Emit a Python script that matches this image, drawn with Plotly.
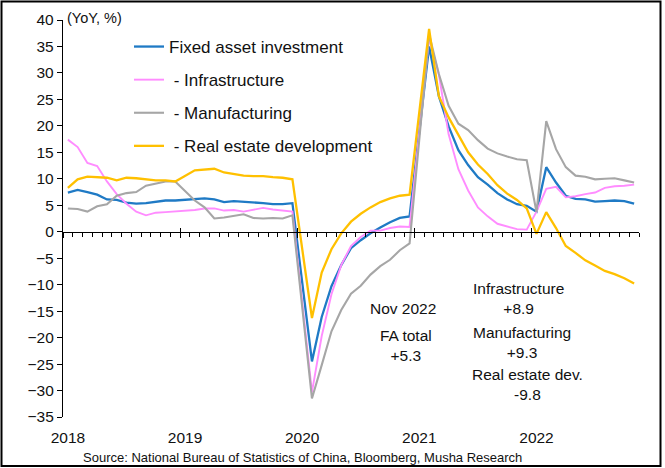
import plotly.graph_objects as go

# ---- data (YTD, YoY %) : Jan 2018 .. Nov 2022, one value per month ----
years = ["2018", "2019", "2020", "2021", "2022"]
months = [f"{y}-{m:02d}" for y in range(2018, 2023) for m in range(1, 13)][:59]

fai = [7.4, 7.9, 7.5, 7.0, 6.1, 6.0, 5.5, 5.3, 5.4, 5.7, 5.9, 5.9,
       None, 6.1, 6.3, 6.1, 5.6, 5.8, 5.7, 5.5, 5.4, 5.2, 5.2, 5.4,
       None, -24.5, -16.1, -10.3, -6.3, -3.1, -1.6, -0.3, 0.8, 1.8, 2.6, 2.9,
       None, 35.0, 25.6, 19.9, 15.4, 12.6, 10.3, 8.9, 7.3, 6.1, 5.2, 4.9,
       3.8, 12.2, 9.3, 6.8, 6.2, 6.1, 5.7, 5.8, 5.9, 5.8, 5.3]

infra = [17.4, 16.0, 13.0, 12.4, 9.5, 7.1, 5.3, 3.8, 3.1, 3.6, 3.7, 3.8,
         None, 4.1, 4.4, 4.4, 4.0, 4.1, 3.8, 4.2, 4.5, 4.2, 4.0, 3.8,
         None, -30.3, -19.7, -11.8, -6.3, -2.7, -1.0, 0.2, 0.2, 0.7, 1.0, 0.9,
         None, 36.6, 29.7, 18.4, 11.8, 7.8, 4.6, 2.9, 1.5, 1.0, 0.5, 0.4,
         3.8, 8.1, 8.5, 6.5, 6.7, 7.1, 7.4, 8.3, 8.6, 8.7, 8.9]

manuf = [4.4, 4.3, 3.8, 4.8, 5.2, 6.8, 7.3, 7.5, 8.7, 9.1, 9.5, 9.5,
         None, 5.9, 4.6, 2.5, 2.7, 3.0, 3.3, 2.6, 2.5, 2.6, 2.5, 3.1,
         None, -31.5, -25.2, -18.8, -14.8, -11.7, -10.2, -8.1, -6.5, -5.3, -3.5, -2.2,
         None, 37.3, 29.8, 23.8, 20.4, 19.2, 17.3, 15.7, 14.8, 14.2, 13.7, 13.5,
         3.7, 20.9, 15.6, 12.2, 10.6, 10.4, 9.9, 10.0, 10.1, 9.7, 9.3]

realestate = [8.3, 9.9, 10.4, 10.3, 10.2, 9.7, 10.2, 10.1, 9.9, 9.7, 9.7, 9.5,
              None, 11.6, 11.8, 11.9, 11.2, 10.9, 10.6, 10.5, 10.5, 10.3, 10.2, 9.9,
              None, -16.3, -7.7, -3.3, -0.3, 1.9, 3.4, 4.6, 5.6, 6.3, 6.8, 7.0,
              None, 38.3, 25.6, 21.6, 18.3, 15.0, 12.7, 10.9, 8.8, 7.2, 6.0, 4.4,
              -0.4, 3.7, 0.7, -2.7, -4.0, -5.4, -6.4, -7.4, -8.0, -8.8, -9.8]

series = [
    ("Fixed asset investment", fai, "#1F7AC5", 2.3),
    ("\u00a0- Infrastructure", infra, "#FF8CFF", 1.9),
    ("\u00a0- Manufacturing", manuf, "#A6A6A6", 2.1),
    ("\u00a0- Real estate development", realestate, "#FFC000", 2.3),
]

x = list(range(len(months)))
year_pos = [months.index(f"{y}-01") for y in years]

FONT = "Arial, Liberation Sans, sans-serif"
TXT = "#111111"

fig = go.Figure()
for i, (name, vals, col, w) in enumerate(series):
    fig.add_trace(go.Scatter(
        x=x, y=vals, name=name, mode="lines", connectgaps=True,
        line=dict(color=col, width=w), legendgroup=f"g{i}",
        customdata=months, hovertemplate="%{customdata}: %{y}<extra></extra>"))

# helper traces so the overlay axes get drawn
fig.add_trace(go.Scatter(x=[None], y=[None], xaxis="x2", showlegend=False, hoverinfo="skip"))
fig.add_trace(go.Scatter(x=[None], y=[None], xaxis="x3", showlegend=False, hoverinfo="skip"))

YMIN, YMAX = -35, 40
zero_pos = (0 - YMIN) / (YMAX - YMIN)
xr = [-0.5, len(months) - 0.5]

L, R, T, B = 63, 26, 20, 51
W = 665 - L - R
H = 468 - T - B

def px(xp):
    return (xp - L) / W

def py(yp):
    return (T + H - yp) / H

fig.update_layout(
    width=665, height=468,
    margin=dict(l=L, r=R, t=T, b=B),
    paper_bgcolor="white", plot_bgcolor="white",
    font=dict(family=FONT, color=TXT),
    showlegend=True,
    legend=dict(x=px(129), y=py(29), xanchor="left", yanchor="top",
                bgcolor="rgba(0,0,0,0)", font=dict(size=17, color=TXT, family=FONT),
                tracegroupgap=8, traceorder="grouped"),
    xaxis=dict(range=xr, anchor="free", position=zero_pos,
               showline=True, linecolor="black", linewidth=1.3,
               tick0=-0.5, dtick=12, ticks="outside", ticklen=5, tickwidth=1.3,
               tickcolor="black", showticklabels=False, showgrid=False, zeroline=False,
               minor=dict(tick0=-0.5, dtick=1, ticks="outside", ticklen=4,
                          tickwidth=1.1, tickcolor="black", showgrid=False)),
    xaxis2=dict(range=xr, overlaying="x", anchor="free", position=zero_pos,
                showline=False, tick0=-0.5, dtick=12, ticks="inside", ticklen=4,
                tickwidth=1.3, tickcolor="black", showticklabels=False,
                showgrid=False, zeroline=False),
    xaxis3=dict(range=xr, overlaying="x", anchor="free", position=0,
                showline=False, tickmode="array", tickvals=year_pos, ticktext=years,
                ticks="outside", ticklen=6, tickcolor="rgba(0,0,0,0)",
                tickfont=dict(size=15.5, color=TXT, family=FONT),
                showgrid=False, zeroline=False),
    yaxis=dict(range=[YMIN, YMAX], tick0=0, dtick=5, ticks="outside", ticklen=5,
               tickwidth=1.3, tickcolor="black", showline=True, linecolor="black",
               linewidth=1.3, showgrid=False, zeroline=False,
               tickfont=dict(size=15.5, color=TXT, family=FONT)),
)

ann = [
    ("(YoY, %)", 65, 18, "left", 14.5),
    ("Nov 2022", 403, 309, "center", 15.5),
    ("FA total<br>+5.3", 406, 345.5, "center", 15.5),
    ("Infrastructure<br>+8.9", 518, 298.5, "center", 15.5),
    ("Manufacturing<br>+9.3", 522, 342.5, "center", 15.5),
    ("Real estate dev.<br>-9.8", 527, 384, "center", 15.5),
    ("Source: National Bureau of Statistics of China, Bloomberg, Musha Research", 302, 458, "center", 13),
]
for text, xp, yp, anc, fs in ann:
    fig.add_annotation(text=text, xref="paper", yref="paper", x=px(xp), y=py(yp),
                       xanchor=anc, yanchor="middle", showarrow=False,
                       font=dict(size=fs, color=TXT, family=FONT))

# outer frame
fig.add_shape(type="rect", xref="paper", yref="paper",
              x0=px(1.5), x1=px(660.5), y0=py(466), y1=py(1.5),
              line=dict(color="black", width=2), fillcolor="rgba(0,0,0,0)", layer="above")

fig.write_html("out.html")
